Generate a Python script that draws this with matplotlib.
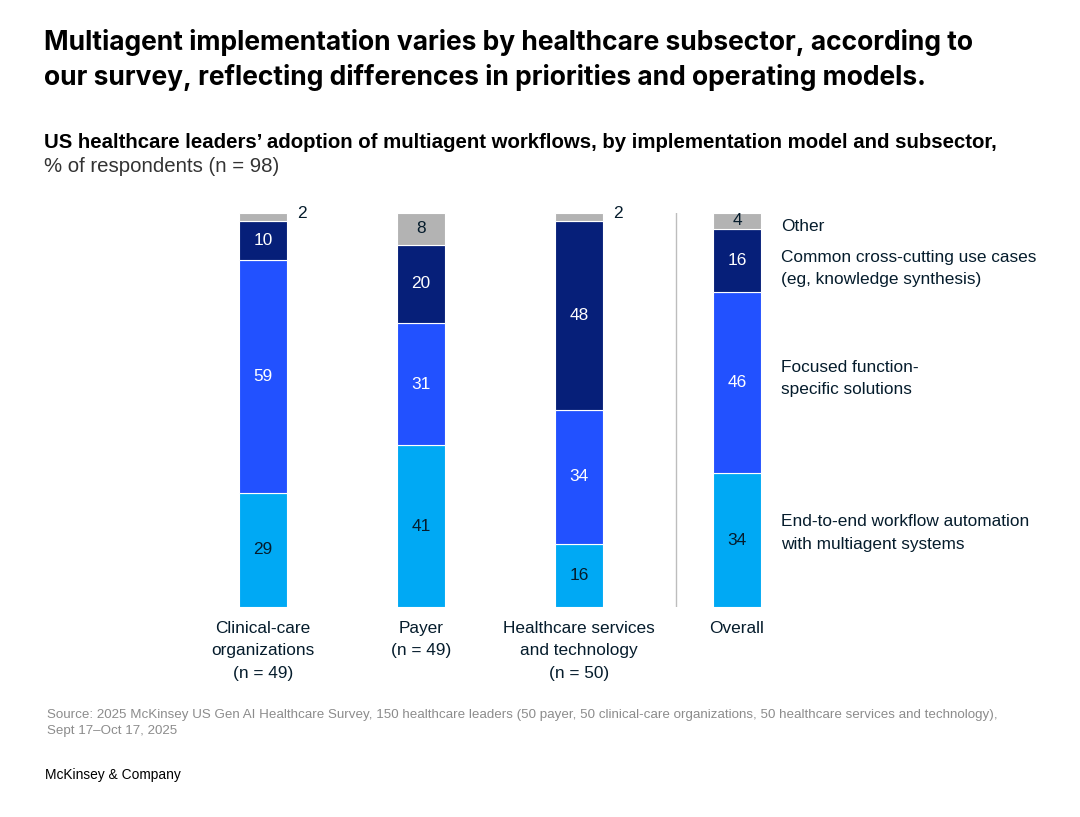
import matplotlib.pyplot as plt
import numpy as np

plt.rcParams['font.family'] = ['Liberation Sans', 'DejaVu Sans']

groups = ['Clinical-care\norganizations\n(n = 49)', 'Payer\n(n = 49)',
          'Healthcare services\nand technology\n(n = 50)', 'Overall']
end_to_end = [29, 41, 16, 34]
focused = [59, 31, 34, 46]
common = [10, 20, 48, 16]
other = [2, 8, 2, 4]

series = [end_to_end, focused, common, other]
colors = ['#00A9F4', '#2251FF', '#061F79', '#B3B3B3']
text_colors = ['#051C2C', 'white', 'white', '#051C2C']
legend_labels = ['End-to-end workflow automation\nwith multiagent systems',
                 'Focused function-\nspecific solutions',
                 'Common cross-cutting use cases\n(eg, knowledge synthesis)',
                 'Other']
legend_y = [18.8, 57.9, 86, 96.7]

W, H = 1080, 817
fig = plt.figure(figsize=(W / 100, H / 100), dpi=100)
ax = fig.add_axes([184 / W, (H - 607) / H, 632 / W, 394 / H])

x = np.arange(len(groups))
bottom = np.zeros(len(groups))
for vals, c, tc in zip(series, colors, text_colors):
    vals = np.array(vals)
    ax.bar(x, vals, width=0.3, bottom=bottom, color=c, edgecolor='white', linewidth=0.8)
    for xi, v, b in zip(x, vals, bottom):
        if v >= 4:
            ax.text(xi, b + v / 2, str(v), ha='center', va='center', color=tc, fontsize=12.4)
        else:
            ax.text(xi + 0.215, b + v / 2 + 0.8, str(v), ha='left', va='center',
                    color='#051C2C', fontsize=12.4)
    bottom += vals

# divider before Overall
ax.plot([2.614, 2.614], [0, 100], color='#BDBDBD', linewidth=1)

# labels to the right of Overall bar
for lab, yy in zip(legend_labels, legend_y):
    ax.text(3.278, yy, lab, ha='left', va='center', fontsize=12.4, color='#051C2C',
            linespacing=1.6)

for xi, g in zip(x, groups):
    ax.text(xi, -3.6, g, ha='center', va='top', fontsize=12.4, color='#051C2C', linespacing=1.6)

ax.set_xlim(-0.5, 3.5)
ax.set_ylim(0, 100)
ax.axis('off')

fig.text(44 / W, 1 - 60 / H, 'Multiagent implementation varies by healthcare subsector, according to\n'
         'our survey, reflecting differences in priorities and operating models.',
         ha='left', va='center', fontsize=19, fontweight='bold', color='#000000',
         linespacing=1.35, family=['Inter', 'DejaVu Sans'])
fig.text(44 / W, 1 - 142 / H, 'US healthcare leaders\u2019 adoption of multiagent workflows, '
         'by implementation model and subsector,',
         ha='left', va='center', fontsize=14.7, fontweight='bold', color='#000000')
fig.text(44 / W, 1 - 166 / H, '% of respondents (n = 98)',
         ha='left', va='center', fontsize=14.7, color='#333333')

fig.text(47 / W, 1 - 723 / H, 'Source: 2025 McKinsey US Gen AI Healthcare Survey, 150 healthcare leaders '
         '(50 payer, 50 clinical-care organizations, 50 healthcare services and technology),\n'
         'Sept 17\u2013Oct 17, 2025',
         ha='left', va='center', fontsize=9.65, color='#8C8C8C', linespacing=1.45)
fig.text(45 / W, 1 - 775 / H, 'McKinsey & Company', ha='left', va='center',
         fontsize=9.9, color='#000000')

fig.savefig('out.png', dpi=100, facecolor='white')
